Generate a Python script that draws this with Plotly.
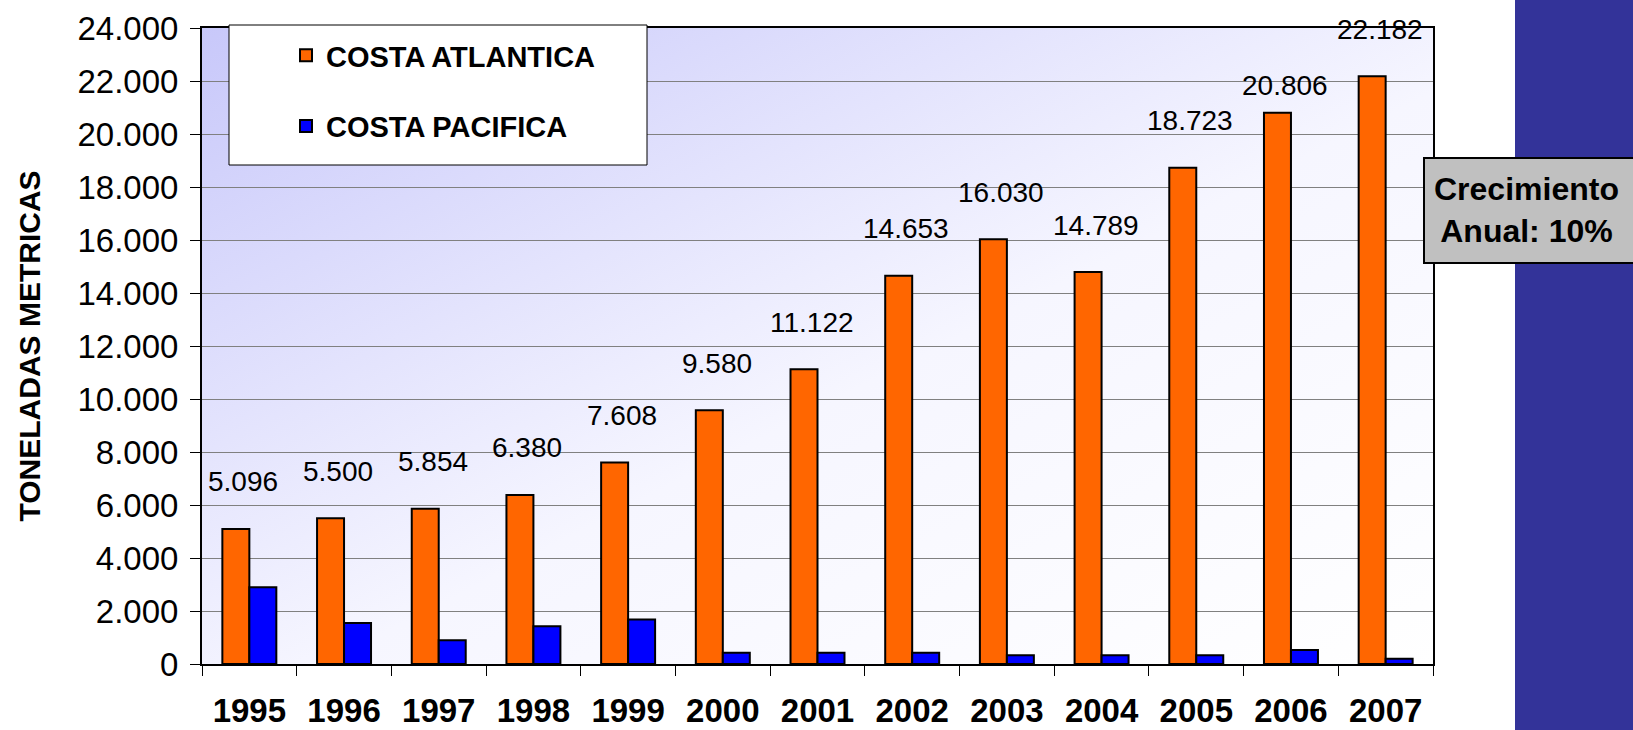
import base64
import plotly.graph_objects as go

# ── Data ──────────────────────────────────────────────────────────────────────
years = ["1995", "1996", "1997", "1998", "1999", "2000", "2001",
         "2002", "2003", "2004", "2005", "2006", "2007"]
atlantica = [5096, 5500, 5854, 6380, 7608, 9580, 11122,
             14653, 16030, 14789, 18723, 20806, 22182]
pacifica = [2900, 1550, 900, 1420, 1680, 420, 420,
            420, 330, 330, 330, 530, 200]
y_ticks = list(range(0, 24001, 2000))

# ── Styles ────────────────────────────────────────────────────────────────────
ORANGE = "#FF6600"
BLUE = "#0000FF"
STRIPE = "#333399"
GRID = "#808080"
BOX_GRAY = "#C0C0C0"
SANS = "Liberation Sans, Arial, sans-serif"

# plot area in pixels: x 202..1433, y 28..664
W, H = 1633, 730
L, R, T, B = 202, 200, 28, 66
PW, PH = W - L - R, H - T - B


def px(x):
    return (x - L) / PW


def py(y):
    return (H - B - y) / PH


# diagonal lavender -> white background for the plot area
svg = (
    "<svg xmlns='http://www.w3.org/2000/svg' width='100' height='100' "
    "viewBox='0 0 100 100' preserveAspectRatio='none'>"
    "<defs><linearGradient id='g' x1='0' y1='0' x2='1' y2='1'>"
    "<stop offset='0' stop-color='#C8C8FA'/>"
    "<stop offset='0.55' stop-color='#F6F6FF'/>"
    "<stop offset='1' stop-color='#FFFFFF'/>"
    "</linearGradient></defs>"
    "<rect width='100' height='100' fill='url(#g)'/></svg>"
)
bg_src = "data:image/svg+xml;base64," + base64.b64encode(svg.encode()).decode()

fig = go.Figure()

fig.add_trace(go.Bar(
    x=years, y=atlantica, name="COSTA ATLANTICA", legendgroup="a",
    marker=dict(color=ORANGE, line=dict(color="black", width=2)),
))
fig.add_trace(go.Bar(
    x=years, y=pacifica, name="COSTA PACIFICA", legendgroup="p",
    marker=dict(color=BLUE, line=dict(color="black", width=2)),
))

# value labels above the Atlantic bars (x given as category index)
label_shift = {"2006": 27}
for i, (yr, v) in enumerate(zip(years, atlantica)):
    fig.add_annotation(
        x=i, y=v, text=f"{v:,}".replace(",", "."),
        showarrow=False, xshift=-6, yshift=label_shift.get(yr, 47),
        xanchor="center", yanchor="middle",
        font=dict(family=SANS, size=28, color="black"),
    )

# growth callout
fig.add_annotation(
    xref="paper", yref="paper", x=px(1526), y=py(210),
    xanchor="center", yanchor="middle",
    text="Crecimiento<br>Anual: 10%", showarrow=False,
    font=dict(family=SANS, size=32, color="black", weight="bold"),
)

fig.update_layout(
    width=W, height=H,
    margin=dict(l=L, r=R, t=T, b=B),
    paper_bgcolor="white",
    plot_bgcolor="rgba(0,0,0,0)",
    barmode="group", bargap=0.43, bargroupgap=0,
    separators=",.",
    font=dict(family=SANS, color="black"),
    images=[dict(
        source=bg_src, xref="paper", yref="paper", x=0, y=1,
        sizex=1, sizey=1, sizing="stretch", layer="below",
        xanchor="left", yanchor="top",
    )],
    shapes=[
        # right stripe
        dict(type="rect", xref="paper", yref="paper",
             x0=px(1515), x1=px(1700), y0=py(800), y1=py(-20),
             fillcolor=STRIPE, line=dict(width=0), layer="above"),
        # legend box
        dict(type="rect", xref="paper", yref="paper",
             x0=px(229), x1=px(647), y0=py(165), y1=py(25),
             fillcolor="white", line=dict(color="black", width=1), layer="above"),
        # callout box
        dict(type="rect", xref="paper", yref="paper",
             x0=px(1424), x1=px(1700), y0=py(263), y1=py(158),
             fillcolor=BOX_GRAY, line=dict(color="black", width=2), layer="above"),
    ],
    showlegend=True,
    legend=dict(
        x=px(286), y=py(30), xanchor="left", yanchor="top",
        bgcolor="rgba(0,0,0,0)", borderwidth=0,
        traceorder="grouped", tracegroupgap=30,
        font=dict(family=SANS, size=29, color="black", weight="bold"),
    ),
    xaxis=dict(
        type="category", range=[-0.5, len(years) - 0.5], showgrid=False,
        automargin=False,
        showline=True, linecolor="black", linewidth=2, mirror=True,
        ticks="outside", tickson="boundaries", ticklen=10, tickangle=0,
        tickcolor="black", tickwidth=1, ticklabelstandoff=16,
        tickfont=dict(family=SANS, size=33, color="black", weight="bold"),
    ),
    yaxis=dict(
        range=[0, 24000], tickvals=y_ticks, tickformat=",.0f",
        automargin=False,
        showgrid=True, gridcolor=GRID, gridwidth=1, zeroline=False,
        showline=True, linecolor="black", linewidth=2, mirror=True,
        ticks="outside", ticklen=10, tickcolor="black", tickwidth=1,
        ticklabelstandoff=5,
        tickfont=dict(family=SANS, size=33, color="black"),
        title=dict(text="TONELADAS METRICAS", standoff=28,
                   font=dict(family=SANS, size=30, color="black", weight="bold")),
    ),
)

fig.write_html("out.html", config={"displayModeBar": False},
               post_script="document.body.style.margin = '0';")
